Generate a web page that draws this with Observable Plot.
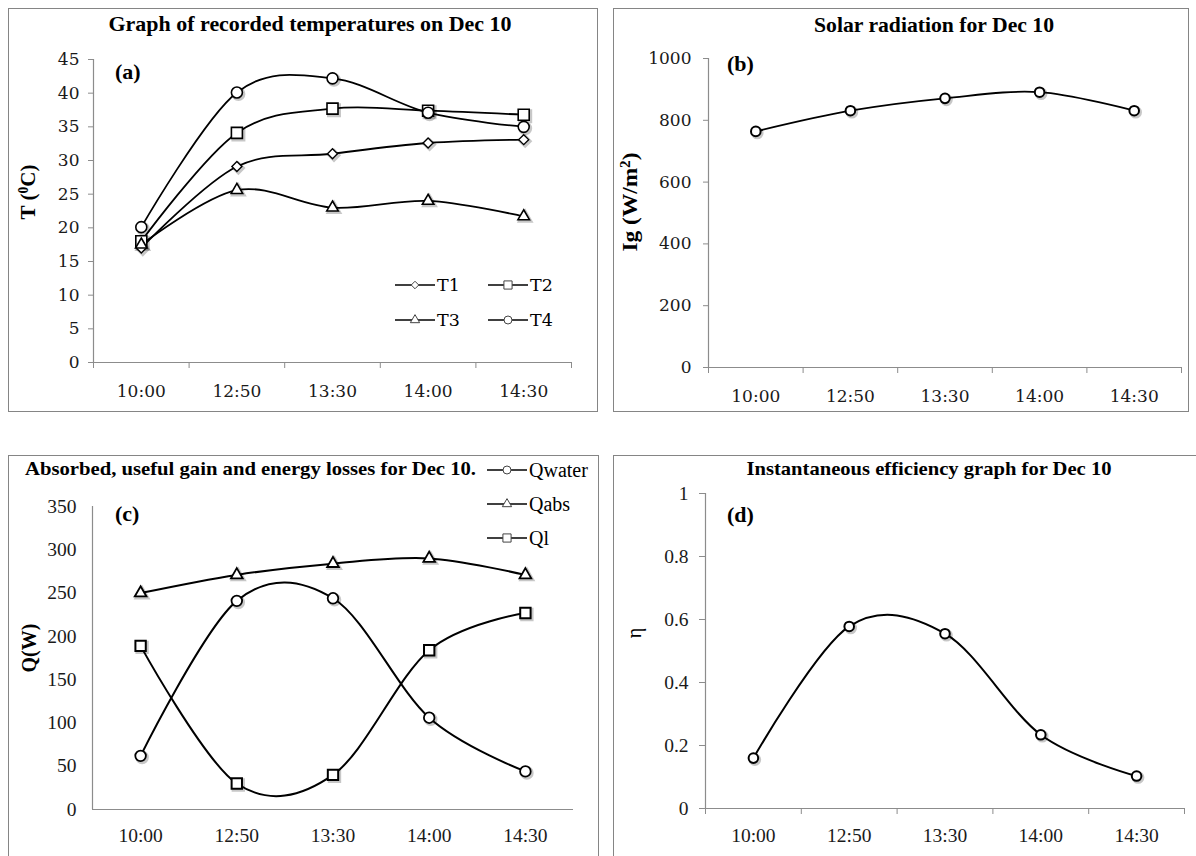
<!DOCTYPE html>
<html><head><meta charset="utf-8">
<script src="https://cdn.jsdelivr.net/npm/d3@7"></script>
<script src="https://cdn.jsdelivr.net/npm/@observablehq/plot@0.6"></script>
<style>
body{margin:0;background:#fff;}
#root{position:relative;width:1196px;height:856px;overflow:hidden;background:#fff;}
.box{position:absolute;border:1.5px solid #858585;box-sizing:border-box;}
</style></head><body><div id="root"></div>
<script>
// ---- data ----
const times = ["10:00", "12:50", "13:30", "14:00", "14:30"];
const T1 = [17.0, 29.1, 31.0, 32.6, 33.1];
const T2 = [18.0, 34.1, 37.7, 37.4, 36.8];
const T3 = [17.5, 25.6, 23.0, 24.0, 21.7];
const T4 = [20.1, 40.1, 42.2, 37.1, 35.0];
const Ig = [764, 831, 871, 891, 831];
const Qwater = [62, 241, 244, 106, 44];
const Qabs = [250, 271, 284, 290, 271];
const Ql = [189, 30, 40, 184, 227];
const eta = [0.16, 0.578, 0.555, 0.234, 0.103];
const tTicks = [0, 5, 10, 15, 20, 25, 30, 35, 40, 45];
const igTicks = [0, 200, 400, 600, 800, 1000];
const qTicks = [0, 50, 100, 150, 200, 250, 300, 350];
const etaTicks = [0, 0.2, 0.4, 0.6, 0.8, 1];

const AXIS = "#8c8c8c", TEXT = "#1a1a1a";
const FONT_AB = "DejaVu Serif", FONT_CD = "Liberation Serif";
const smooth = d3.curveCardinal.tension(0);
const root = document.getElementById("root");

// boxes
[[8, 8, 590, 404], [613, 8, 576, 404], [8, 455, 591, 430], [613, 455, 620, 430]].forEach(([l, t, w, h]) => {
  const d = document.createElement("div");
  d.className = "box";
  Object.assign(d.style, {left: l + "px", top: t + "px", width: w + "px", height: h + "px"});
  root.append(d);
});

function panel(c) {
  const rows = c.series.map(s => s.values.map((v, i) => ({x: i + 0.5, y: v})));
  const marks = [
    Plot.ruleX([0], {stroke: AXIS, strokeWidth: 1.2}),
    Plot.ruleY([c.yDomain[0]], {stroke: AXIS, strokeWidth: 1.2}),
    Plot.axisY({ticks: c.yTicks, tickSize: c.yTickSize, tickPadding: c.yPad, tickFormat: d => String(d),
      stroke: AXIS, fill: TEXT, fontSize: c.fontSize, label: null}),
    Plot.axisX({ticks: times.map((_, i) => i + 0.5), tickSize: 0, tickPadding: c.xPad,
      tickFormat: v => times[Math.floor(v)], fill: TEXT, fontSize: c.fontSize, label: null})
  ];
  if (c.xTickMarks) marks.push(Plot.axisX({ticks: d3.range(times.length + 1), tickSize: 6,
    tickFormat: () => "", stroke: AXIS, label: null}));
  c.series.forEach((s, k) => marks.push(Plot.line(rows[k], {x: "x", y: "y", curve: smooth, stroke: "#000", strokeWidth: c.lineWidth})));
  c.series.forEach((s, k) => marks.push(Plot.dot(rows[k], {x: "x", y: "y", symbol: s.symbol, r: s.r,
    fill: "none", stroke: "#000", strokeOpacity: 0.22, strokeWidth: 3, dx: 1.5, dy: 1.5})));
  c.series.forEach((s, k) => marks.push(Plot.dot(rows[k], {x: "x", y: "y", symbol: s.symbol, r: s.r,
    fill: "#fff", stroke: "#000", strokeWidth: s.sw})));
  const svg = Plot.plot({
    width: c.width, height: c.height,
    marginLeft: c.ml, marginRight: c.mr, marginTop: c.mt, marginBottom: c.mb,
    x: {domain: [0, times.length], axis: null},
    y: {domain: c.yDomain, axis: null},
    style: {fontFamily: c.fontFamily, fontSize: c.fontSize + "px", background: "transparent", overflow: "visible", color: TEXT},
    marks
  });
  Object.assign(svg.style, {position: "absolute", left: c.left + "px", top: c.top + "px"});
  root.append(svg);
}

// (a)
panel({left: 8, top: 8, width: 590, height: 404, ml: 85, mr: 27, mt: 51, mb: 50,
  yDomain: [0, 45], yTicks: tTicks, yTickSize: 5, yPad: 9, xPad: 22, xTickMarks: true,
  fontFamily: FONT_AB, fontSize: 17, lineWidth: 1.8,
  series: [
    {values: T1, symbol: "diamond2", r: 4.5, sw: 1.4},
    {values: T2, symbol: "square2", r: 7, sw: 1.6},
    {values: T3, symbol: "triangle2", r: 5.5, sw: 1.6},
    {values: T4, symbol: "circle", r: 5.5, sw: 1.6}
  ]});
// (b)
panel({left: 613, top: 8, width: 576, height: 404, ml: 95, mr: 8, mt: 50, mb: 45,
  yDomain: [0, 1000], yTicks: igTicks, yTickSize: 5, yPad: 12, xPad: 22, xTickMarks: true,
  fontFamily: FONT_AB, fontSize: 17, lineWidth: 1.8,
  series: [{values: Ig, symbol: "circle", r: 4.8, sw: 2}]});
// (c)
panel({left: 8, top: 455, width: 591, height: 401, ml: 84, mr: 26, mt: 51, mb: 47,
  yDomain: [0, 350], yTicks: qTicks, yTickSize: 0, yPad: 16, xPad: 19, xTickMarks: false,
  fontFamily: FONT_CD, fontSize: 19.5, lineWidth: 2,
  series: [
    {values: Qwater, symbol: "circle", r: 5.3, sw: 1.8},
    {values: Qabs, symbol: "triangle2", r: 5.6, sw: 1.8},
    {values: Ql, symbol: "square2", r: 6.6, sw: 2}
  ]});
// (d)
panel({left: 613, top: 455, width: 583, height: 401, ml: 92, mr: 12, mt: 38, mb: 48,
  yDomain: [0, 1], yTicks: etaTicks, yTickSize: 6, yPad: 11, xPad: 20, xTickMarks: true,
  fontFamily: FONT_CD, fontSize: 19.5, lineWidth: 2,
  series: [{values: eta, symbol: "circle", r: 4.8, sw: 2}]});

// ---- text overlay ----
const ov = d3.select(root).append("svg").attr("width", 1196).attr("height", 856)
  .style("position", "absolute").style("left", 0).style("top", 0);
function txt(x, y, s, o = {}) {
  const size = o.size || 18;
  const t = ov.append("text")
    .attr("font-family", o.family || FONT_CD).attr("font-size", size)
    .attr("font-weight", o.bold ? "bold" : "normal")
    .attr("text-anchor", o.anchor || "start").attr("fill", "#000");
  if (o.rotate) {
    t.attr("transform", `translate(${x},${y}) rotate(-90)`).attr("x", 0).attr("y", 0.34 * size);
  } else {
    t.attr("x", x).attr("y", y + 0.34 * size);
  }
  if (o.len) t.attr("textLength", o.len).attr("lengthAdjust", "spacingAndGlyphs");
  if (o.parts) {
    o.parts.forEach(p => {
      const ts = t.append("tspan").text(p.t);
      if (p.sup) ts.attr("baseline-shift", "super").attr("font-size", size * 0.65);
    });
  } else t.text(s);
  return t;
}
// titles
txt(310, 23.5, "Graph of recorded temperatures on Dec 10", {bold: true, size: 21, anchor: "middle", len: 403});
txt(934, 25, "Solar radiation for Dec 10", {bold: true, size: 21, anchor: "middle", len: 240});
txt(25, 468, "Absorbed, useful gain and energy losses for Dec 10.", {bold: true, size: 19.5, len: 451});
txt(929, 468, "Instantaneous efficiency graph for Dec 10", {bold: true, size: 19.5, anchor: "middle", len: 365});
// panel letters
txt(115, 72, "(a)", {bold: true, size: 22});
txt(727, 64, "(b)", {bold: true, size: 22});
txt(115, 514, "(c)", {bold: true, size: 22});
txt(727, 515, "(d)", {bold: true, size: 22});
// axis titles
txt(28, 192, null, {bold: true, size: 21, anchor: "middle", rotate: true, len: 55, parts: [{t: "T ("}, {t: "0", sup: true}, {t: "C)"}]});
txt(630, 202, null, {bold: true, size: 21, anchor: "middle", rotate: true, len: 99, parts: [{t: "Ig (W/m"}, {t: "2", sup: true}, {t: ")"}]});
txt(29, 648, "Q(W)", {bold: true, size: 20, anchor: "middle", rotate: true});
txt(634, 633, "η", {size: 20, anchor: "middle", rotate: true});

// legends
const symMap = {diamond2: [d3.symbolDiamond2, 36], square2: [d3.symbolSquare2, 85], triangle2: [d3.symbolTriangle2, 62], circle: [d3.symbolCircle, 50]};
function legend(x0, cy, sym, label, family, size) {
  ov.append("line").attr("x1", x0).attr("x2", x0 + 40).attr("y1", cy).attr("y2", cy).attr("stroke", "#000").attr("stroke-width", 1.6);
  const [type, sz] = symMap[sym];
  ov.append("path").attr("d", d3.symbol().type(type).size(sz)()).attr("transform", `translate(${x0 + 20},${cy})`)
    .attr("fill", "#fff").attr("stroke", "#444").attr("stroke-width", 1);
  txt(x0 + 42, cy, label, {family, size});
}
legend(395, 285, "diamond2", "T1", FONT_AB, 17.5);
legend(488, 285, "square2", "T2", FONT_AB, 17.5);
legend(395, 320, "triangle2", "T3", FONT_AB, 17.5);
legend(488, 320, "circle", "T4", FONT_AB, 17.5);
legend(487, 470, "circle", "Qwater", FONT_CD, 20);
legend(487, 504, "triangle2", "Qabs", FONT_CD, 20);
legend(487, 538, "square2", "Ql", FONT_CD, 20);
</script></body></html>
